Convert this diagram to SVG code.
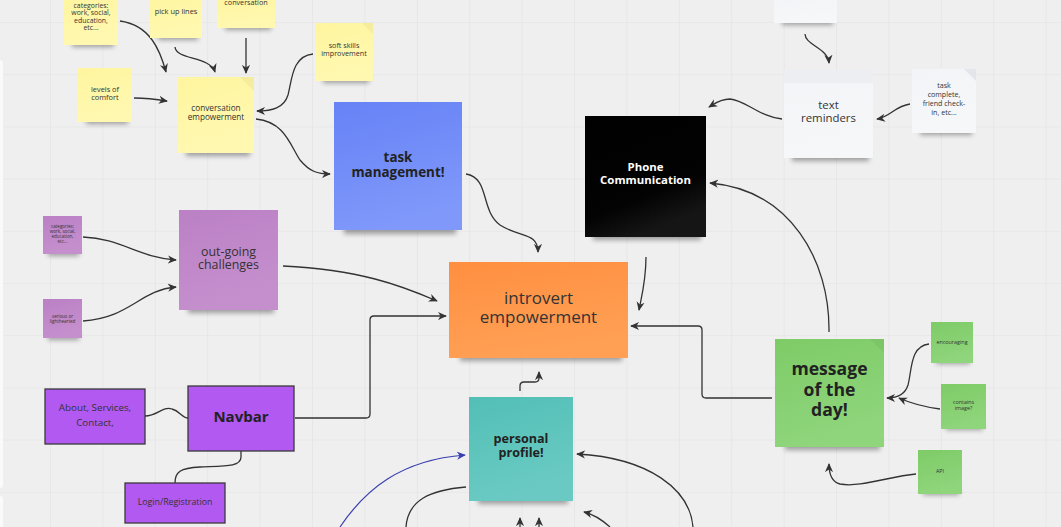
<svg xmlns="http://www.w3.org/2000/svg" width="1061" height="527" viewBox="0 0 1061 527">
  <defs>
    <pattern id="grid" x="50" y="22" width="52.4" height="52.2" patternUnits="userSpaceOnUse">
      <path d="M0,0 V52.2 M0,0 H52.4" fill="none" stroke="#e1e1e1" stroke-width="1.2"/>
    </pattern>
    <filter id="soft" x="-20%" y="-100%" width="140%" height="300%">
      <feGaussianBlur stdDeviation="2.6"/>
    </filter>
    <marker id="arr" viewBox="0 0 10 10" refX="9" refY="5" markerWidth="9" markerHeight="9" markerUnits="userSpaceOnUse" orient="auto">
      <path d="M0,0.5 L10,5 L0,9.5 L3,5 z" fill="#333"/>
    </marker>
    <marker id="arrBlue" viewBox="0 0 10 10" refX="9" refY="5" markerWidth="9" markerHeight="9" markerUnits="userSpaceOnUse" orient="auto">
      <path d="M0,0.5 L10,5 L0,9.5 L3,5 z" fill="#3a3fb0"/>
    </marker>
    <linearGradient id="gYellow" x1="0" y1="0" x2="0.3" y2="1">
      <stop offset="0" stop-color="#fff59f"/><stop offset="1" stop-color="#fff8b0"/>
    </linearGradient>
    <linearGradient id="gBlue" x1="0" y1="0" x2="0.3" y2="1">
      <stop offset="0" stop-color="#6682f6"/><stop offset="1" stop-color="#7f98fa"/>
    </linearGradient>
    <linearGradient id="gBlack" x1="0" y1="0" x2="0.4" y2="1">
      <stop offset="0" stop-color="#000"/><stop offset="0.75" stop-color="#030303"/><stop offset="1" stop-color="#151515"/>
    </linearGradient>
    <linearGradient id="gWhite" x1="0" y1="0" x2="0.3" y2="1">
      <stop offset="0" stop-color="#f3f4f7"/><stop offset="1" stop-color="#f6f7f9"/>
    </linearGradient>
    <linearGradient id="gViolet" x1="0" y1="0" x2="0.3" y2="1">
      <stop offset="0" stop-color="#bb80c5"/><stop offset="1" stop-color="#c58fcd"/>
    </linearGradient>
    <linearGradient id="gOrange" x1="0" y1="0" x2="0.3" y2="1">
      <stop offset="0" stop-color="#ff8f40"/><stop offset="1" stop-color="#ffa055"/>
    </linearGradient>
    <linearGradient id="gTeal" x1="0" y1="0" x2="0.3" y2="1">
      <stop offset="0" stop-color="#52bfb6"/><stop offset="1" stop-color="#6acac3"/>
    </linearGradient>
    <linearGradient id="gGreen" x1="0" y1="0" x2="0.3" y2="1">
      <stop offset="0" stop-color="#7ecb67"/><stop offset="1" stop-color="#8fd57c"/>
    </linearGradient>
    <style>
      .shd { fill: #000; opacity: 0.34; filter: url(#soft); }
      .t { font-family: "Open Sans", "Liberation Sans", sans-serif; text-anchor: middle; fill: #333; }
      .b { font-weight: bold; fill: #222; }
      .w { fill: #fff; font-weight: bold; }
      .box { fill: #b159f1; stroke: #3a3a3a; stroke-width: 1.3; }
      .line { fill: none; stroke: #333; stroke-width: 1.3; }
      .arrow { marker-end: url(#arr); }
      .blue { fill: none; stroke: #3a3fb0; stroke-width: 1.2; marker-end: url(#arrBlue); }
      .fold { fill: #000; opacity: 0.04; }
    </style>
  </defs>

  <!-- canvas -->
  <rect width="1061" height="527" fill="#efefef"/>
  <rect width="1061" height="527" fill="url(#grid)"/>
  <rect x="-6" y="60" width="9" height="428" rx="3" fill="#fafafa"/>
  <rect x="-6" y="496" width="9" height="40" rx="3" fill="#fafafa"/>

  <!-- connectors -->
  <g id="connectors">
    <path class="line arrow" d="M120,21 C150,25 160,50 166,72"/>
    <path class="line arrow" d="M175,47 C176,60 210,56 215,72"/>
    <path class="line arrow" d="M246,38 V73"/>
    <path class="line arrow" d="M134,98 C145,98 155,99 167,101"/>
    <path class="line arrow" d="M313,54 C292,56 292,80 288,95 C284,108 272,111 257,111"/>
    <path class="line arrow" d="M256,119 C285,122 290,145 300,160 C310,172 318,174 330,174"/>
    <path class="line arrow" d="M466,174 C490,178 480,210 500,225 C520,238 538,232 538,252"/>
    <path class="line arrow" d="M646,257 C646,280 642,295 639,310"/>
    <path class="line arrow" d="M283,266 C360,270 400,285 437,301"/>
    <path class="line arrow" d="M295,418 H366 Q370,418 370,414 V320 Q370,316 374,316 H446"/>
    <path class="line arrow" d="M772,398 H706 Q702,398 702,394 V330 Q702,326 698,326 H631"/>
    <path class="line arrow" d="M520,391 V386 Q520,382 524,382 H535 Q539,382 539,378 V372"/>
    <path class="line arrow" d="M829,332 C830,260 790,190 710,183"/>
    <path class="line arrow" d="M782,119 C760,117 745,100 730,99 C720,99 714,104 709,107"/>
    <path class="line arrow" d="M910,104 C895,106 890,117 877,119"/>
    <path class="line arrow" d="M805,34 C805,45 828,48 829,63"/>
    <path class="line arrow" d="M929,344 C910,346 912,370 908,385 C905,395 896,398 887,398"/>
    <path class="line arrow" d="M940,409 C925,407 910,403 899,398"/>
    <path class="line arrow" d="M916,474 C890,476 860,488 840,484 C832,482 829,475 829,464"/>
    <path class="line arrow" d="M83,237 C120,238 140,258 176,260"/>
    <path class="line arrow" d="M83,321 C130,318 140,290 176,287"/>
    <path class="line" d="M145,416 C158,416 162,406 172,409 C180,411 182,418 188,418"/>
    <path class="line" d="M241,451 V457 C241,467 225,466 200,467 C180,468 175,472 175,483"/>
    <path class="blue" d="M340,527 C365,490 400,460 465,455"/>
    <path class="line" d="M466,487 C430,490 408,500 406,527"/>
    <path class="line arrow" d="M693,527 C690,490 650,458 577,454"/>
    <path class="line arrow" d="M520,527 V518"/>
    <path class="line arrow" d="M539,527 V518"/>
    <path class="line arrow" d="M610,527 C600,518 592,514 584,512"/>
  </g>

  <!-- yellow notes -->
  <g id="categories-yellow">
    <rect class="shd" x="72" y="38" width="42" height="9"/>
    <rect x="64" y="-5" width="54" height="50" fill="url(#gYellow)"/>
    <text class="t" font-size="6.9" x="91" y="7.5">categories:<tspan x="91" dy="7.6">work, social,</tspan><tspan x="91" dy="7.6">education,</tspan><tspan x="91" dy="7.6">etc...</tspan></text>
  </g>
  <g id="pick-up-lines">
    <rect class="shd" x="158" y="31" width="40" height="9"/>
    <rect x="150" y="-5" width="52" height="43" fill="url(#gYellow)"/>
    <text class="t" font-size="7.4" x="176" y="13.5">pick up lines</text>
  </g>
  <g id="conversation">
    <rect class="shd" x="225" y="21" width="46" height="9"/>
    <rect x="217" y="-5" width="58" height="33" fill="url(#gYellow)"/>
    <text class="t" font-size="7.2" x="246" y="5">conversation</text>
  </g>
  <g id="soft-skills">
    <rect class="shd" x="323" y="74" width="46" height="9"/>
    <rect x="315" y="23" width="58" height="58" fill="url(#gYellow)"/>
    <path class="fold" d="M362,23 H373 V34 z"/>
    <text class="t" font-size="7.2" x="344" y="47.5">soft skills<tspan x="344" dy="8">improvement</tspan></text>
  </g>
  <g id="levels-of-comfort">
    <rect class="shd" x="86" y="115" width="42" height="9"/>
    <rect x="78" y="68" width="54" height="54" fill="url(#gYellow)"/>
    <text class="t" font-size="7.4" x="105" y="91.5">levels of<tspan x="105" dy="8.5">comfort</tspan></text>
  </g>
  <g id="conversation-empowerment">
    <rect class="shd" x="186" y="146" width="64" height="10"/>
    <rect x="178" y="77" width="76" height="76" fill="url(#gYellow)"/>
    <path class="fold" d="M240,77 H254 V91 z"/>
    <text class="t" font-size="8.2" x="216" y="111">conversation<tspan x="216" dy="9">empowerment</tspan></text>
  </g>

  <!-- task management -->
  <g id="task-management">
    <rect class="shd" x="344" y="223" width="112" height="11"/>
    <rect x="334" y="102" width="128" height="128" fill="url(#gBlue)"/>
    <text class="t b" font-size="13.4" x="398" y="162" fill="#1e2140">task<tspan x="398" dy="15">management!</tspan></text>
  </g>

  <!-- phone communication -->
  <g id="phone-communication">
    <rect class="shd" x="593" y="230" width="108" height="10"/>
    <rect x="585" y="116" width="121" height="121" fill="url(#gBlack)"/>
    <text class="t w" font-size="11.4" x="645.5" y="171">Phone<tspan x="645.5" dy="13">Communication</tspan></text>
  </g>

  <!-- white notes -->
  <g id="top-white-note">
    <rect class="shd" x="782" y="16" width="51" height="9"/>
    <rect x="774" y="-5" width="63" height="28" fill="url(#gWhite)"/>
  </g>
  <g id="text-reminders">
    <rect class="shd" x="792" y="151" width="77" height="10"/>
    <rect x="784" y="70" width="89" height="88" fill="url(#gWhite)"/>
    <rect x="784" y="70" width="89" height="13" fill="#eceef1"/>
    <text class="t" font-size="11.4" x="828.5" y="109">text<tspan x="828.5" dy="13">reminders</tspan></text>
  </g>
  <g id="task-complete">
    <rect class="shd" x="920" y="126" width="52" height="9"/>
    <rect x="912" y="69" width="64" height="64" fill="url(#gWhite)"/>
    <path d="M964,69 H976 V81 z" fill="#e4e5ea"/>
    <text class="t" font-size="7.1" x="944" y="87.5">task<tspan x="944" dy="9">complete,</tspan><tspan x="944" dy="9">friend check-</tspan><tspan x="944" dy="9">in, etc...</tspan></text>
  </g>

  <!-- violet notes -->
  <g id="out-going-challenges">
    <rect class="shd" x="188" y="303" width="86" height="10"/>
    <rect x="179" y="210" width="99" height="100" fill="url(#gViolet)"/>
    <text class="t" font-size="12.4" x="228.5" y="256">out-going<tspan x="228.5" dy="13">challenges</tspan></text>
  </g>
  <g id="categories-violet">
    <rect class="shd" x="48" y="249" width="31" height="7"/>
    <rect x="43" y="216" width="39" height="38" fill="url(#gViolet)"/>
    <text class="t" font-size="4.5" x="62.5" y="227.5">categories:<tspan x="62.5" dy="5.3">work, social,</tspan><tspan x="62.5" dy="5.3">education,</tspan><tspan x="62.5" dy="5.3">etc...</tspan></text>
  </g>
  <g id="serious-or-lighthearted">
    <rect class="shd" x="48" y="333" width="31" height="7"/>
    <rect x="43" y="299" width="39" height="39" fill="url(#gViolet)"/>
    <text class="t" font-size="4.5" x="62.5" y="317.5">serious or<tspan x="62.5" dy="5">lighthearted</tspan></text>
  </g>

  <!-- central note -->
  <g id="introvert-empowerment">
    <rect class="shd" x="460" y="350" width="162" height="11"/>
    <rect x="449" y="262" width="179" height="96" fill="url(#gOrange)"/>
    <text class="t" font-size="17" x="538.5" y="304">introvert<tspan x="538.5" dy="19">empowerment</tspan></text>
  </g>

  <!-- personal profile -->
  <g id="personal-profile">
    <rect class="shd" x="478" y="494" width="90" height="10"/>
    <rect x="469" y="397" width="104" height="104" fill="url(#gTeal)"/>
    <text class="t b" font-size="12.6" x="521" y="443" fill="#1e2a2a">personal<tspan x="521" dy="14">profile!</tspan></text>
  </g>

  <!-- message of the day -->
  <g id="message-of-the-day">
    <rect class="shd" x="785" y="440" width="95" height="10"/>
    <rect x="775" y="339" width="109" height="108" fill="url(#gGreen)"/>
    <path class="fold" d="M870,339 H884 V353 z"/>
    <text class="t b" font-size="17.6" x="829.5" y="375" fill="#1f1f1f">message<tspan x="829.5" dy="20.5">of the</tspan><tspan x="829.5" dy="20.5">day!</tspan></text>
  </g>
  <g id="encouraging">
    <rect class="shd" x="936" y="356" width="34" height="8"/>
    <rect x="931" y="322" width="42" height="41" fill="url(#gGreen)"/>
    <text class="t" font-size="5.4" x="952" y="344">encouraging</text>
  </g>
  <g id="contains-image">
    <rect class="shd" x="946" y="422" width="37" height="8"/>
    <rect x="941" y="384" width="45" height="45" fill="url(#gGreen)"/>
    <text class="t" font-size="5.4" x="963.5" y="404">contains<tspan x="963.5" dy="6">image?</tspan></text>
  </g>
  <g id="api">
    <rect class="shd" x="923" y="487" width="36" height="8"/>
    <rect x="918" y="450" width="44" height="44" fill="url(#gGreen)"/>
    <text class="t" font-size="5.4" x="940" y="473">API</text>
  </g>

  <!-- navigation boxes -->
  <g id="about-services-contact">
    <rect class="box" x="45" y="389" width="100" height="55"/>
    <text class="t" font-size="9.8" x="95" y="411" fill="#2a2a2a">About, Services,<tspan x="95" dy="15">Contact,</tspan></text>
  </g>
  <g id="navbar">
    <rect class="box" x="188" y="386" width="106" height="65"/>
    <text class="t b" font-size="15" x="241" y="422">Navbar</text>
  </g>
  <g id="login-registration">
    <rect class="box" x="125" y="483" width="100" height="40"/>
    <text class="t" font-size="8.8" x="175" y="505" fill="#2a2a2a">Login/Registration</text>
  </g>
</svg>
